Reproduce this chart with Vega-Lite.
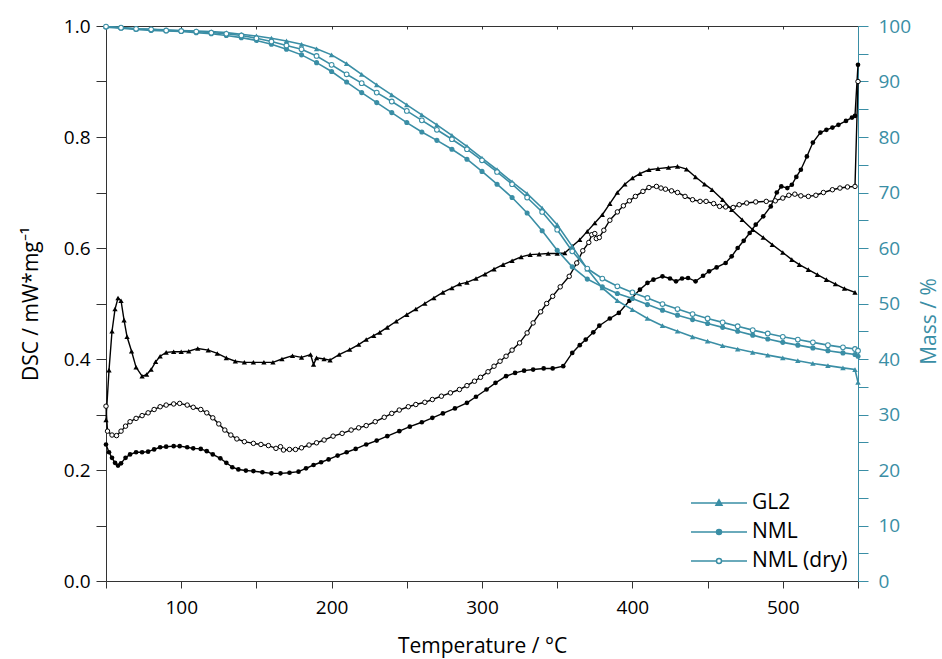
{
"$schema": "https://vega.github.io/schema/vega-lite/v6.json",
"autosize": "none",
"width": 752,
"height": 555,
"padding": {"left": 106, "top": 26, "right": 84, "bottom": 78},
"background": "white",
"config": {"view": {"stroke": null}, "font": "Open Sans", "axis": {"grid": false, "labelFont": "Open Sans", "titleFont": "Open Sans", "titleFontWeight": "normal", "labelOverlap": false, "labelFlush": false}},
"datasets": {
"dsc": [
{"s":"GL2","t":50,"v":0.29},{"s":"GL2","t":52,"v":0.38},{"s":"GL2","t":54,"v":0.45},{"s":"GL2","t":56,"v":0.49},{"s":"GL2","t":58,"v":0.51},{"s":"GL2","t":60,"v":0.505},{"s":"GL2","t":62,"v":0.47},{"s":"GL2","t":64,"v":0.44},{"s":"GL2","t":67,"v":0.414},{"s":"GL2","t":70,"v":0.385},{"s":"GL2","t":74,"v":0.369},{"s":"GL2","t":77,"v":0.372},{"s":"GL2","t":80,"v":0.381},{"s":"GL2","t":83,"v":0.395},{"s":"GL2","t":86,"v":0.405},{"s":"GL2","t":90,"v":0.412},{"s":"GL2","t":95,"v":0.413},{"s":"GL2","t":100,"v":0.413},{"s":"GL2","t":105,"v":0.414},{"s":"GL2","t":111,"v":0.419},{"s":"GL2","t":118,"v":0.416},{"s":"GL2","t":124,"v":0.41},{"s":"GL2","t":130,"v":0.402},{"s":"GL2","t":136,"v":0.396},{"s":"GL2","t":142,"v":0.394},{"s":"GL2","t":148,"v":0.394},{"s":"GL2","t":155,"v":0.394},{"s":"GL2","t":161,"v":0.394},{"s":"GL2","t":167,"v":0.4},{"s":"GL2","t":174,"v":0.406},{"s":"GL2","t":180,"v":0.403},{"s":"GL2","t":186,"v":0.408},{"s":"GL2","t":188,"v":0.39},{"s":"GL2","t":190,"v":0.402},{"s":"GL2","t":195,"v":0.4},{"s":"GL2","t":199,"v":0.398},{"s":"GL2","t":205,"v":0.408},{"s":"GL2","t":212,"v":0.417},{"s":"GL2","t":218,"v":0.426},{"s":"GL2","t":223,"v":0.435},{"s":"GL2","t":228,"v":0.442},{"s":"GL2","t":232,"v":0.448},{"s":"GL2","t":237,"v":0.457},{"s":"GL2","t":243,"v":0.468},{"s":"GL2","t":250,"v":0.48},{"s":"GL2","t":256,"v":0.49},{"s":"GL2","t":262,"v":0.5},{"s":"GL2","t":268,"v":0.51},{"s":"GL2","t":274,"v":0.52},{"s":"GL2","t":280,"v":0.528},{"s":"GL2","t":285,"v":0.535},{"s":"GL2","t":290,"v":0.538},{"s":"GL2","t":296,"v":0.545},{"s":"GL2","t":302,"v":0.553},{"s":"GL2","t":308,"v":0.562},{"s":"GL2","t":314,"v":0.57},{"s":"GL2","t":320,"v":0.577},{"s":"GL2","t":326,"v":0.584},{"s":"GL2","t":332,"v":0.588},{"s":"GL2","t":338,"v":0.589},{"s":"GL2","t":344,"v":0.59},{"s":"GL2","t":350,"v":0.59},{"s":"GL2","t":355,"v":0.591},{"s":"GL2","t":360,"v":0.603},{"s":"GL2","t":365,"v":0.615},{"s":"GL2","t":370,"v":0.63},{"s":"GL2","t":375,"v":0.645},{"s":"GL2","t":380,"v":0.66},{"s":"GL2","t":385,"v":0.68},{"s":"GL2","t":390,"v":0.7},{"s":"GL2","t":395,"v":0.715},{"s":"GL2","t":400,"v":0.726},{"s":"GL2","t":405,"v":0.734},{"s":"GL2","t":411,"v":0.741},{"s":"GL2","t":417,"v":0.743},{"s":"GL2","t":424,"v":0.745},{"s":"GL2","t":430,"v":0.747},{"s":"GL2","t":436,"v":0.742},{"s":"GL2","t":442,"v":0.728},{"s":"GL2","t":448,"v":0.715},{"s":"GL2","t":453,"v":0.705},{"s":"GL2","t":460,"v":0.687},{"s":"GL2","t":466,"v":0.669},{"s":"GL2","t":473,"v":0.651},{"s":"GL2","t":480,"v":0.633},{"s":"GL2","t":487,"v":0.619},{"s":"GL2","t":493,"v":0.606},{"s":"GL2","t":500,"v":0.592},{"s":"GL2","t":506,"v":0.579},{"s":"GL2","t":511,"v":0.57},{"s":"GL2","t":517,"v":0.561},{"s":"GL2","t":523,"v":0.552},{"s":"GL2","t":529,"v":0.543},{"s":"GL2","t":535,"v":0.535},{"s":"GL2","t":541,"v":0.527},{"s":"GL2","t":548,"v":0.52},
{"s":"NML","t":50,"v":0.246},{"s":"NML","t":52,"v":0.232},{"s":"NML","t":54,"v":0.222},{"s":"NML","t":56,"v":0.213},{"s":"NML","t":58,"v":0.208},{"s":"NML","t":60,"v":0.212},{"s":"NML","t":63,"v":0.222},{"s":"NML","t":66,"v":0.228},{"s":"NML","t":70,"v":0.232},{"s":"NML","t":74,"v":0.232},{"s":"NML","t":78,"v":0.233},{"s":"NML","t":82,"v":0.237},{"s":"NML","t":86,"v":0.241},{"s":"NML","t":90,"v":0.242},{"s":"NML","t":95,"v":0.243},{"s":"NML","t":99,"v":0.243},{"s":"NML","t":104,"v":0.241},{"s":"NML","t":108,"v":0.239},{"s":"NML","t":113,"v":0.238},{"s":"NML","t":117,"v":0.234},{"s":"NML","t":121,"v":0.228},{"s":"NML","t":126,"v":0.221},{"s":"NML","t":130,"v":0.213},{"s":"NML","t":134,"v":0.205},{"s":"NML","t":138,"v":0.201},{"s":"NML","t":143,"v":0.199},{"s":"NML","t":148,"v":0.198},{"s":"NML","t":154,"v":0.196},{"s":"NML","t":160,"v":0.194},{"s":"NML","t":166,"v":0.194},{"s":"NML","t":172,"v":0.195},{"s":"NML","t":178,"v":0.197},{"s":"NML","t":183,"v":0.203},{"s":"NML","t":188,"v":0.209},{"s":"NML","t":193,"v":0.214},{"s":"NML","t":198,"v":0.219},{"s":"NML","t":204,"v":0.226},{"s":"NML","t":210,"v":0.232},{"s":"NML","t":216,"v":0.238},{"s":"NML","t":223,"v":0.246},{"s":"NML","t":230,"v":0.253},{"s":"NML","t":237,"v":0.261},{"s":"NML","t":245,"v":0.27},{"s":"NML","t":252,"v":0.278},{"s":"NML","t":260,"v":0.286},{"s":"NML","t":267,"v":0.294},{"s":"NML","t":274,"v":0.302},{"s":"NML","t":282,"v":0.311},{"s":"NML","t":290,"v":0.321},{"s":"NML","t":296,"v":0.332},{"s":"NML","t":303,"v":0.345},{"s":"NML","t":309,"v":0.357},{"s":"NML","t":316,"v":0.369},{"s":"NML","t":322,"v":0.375},{"s":"NML","t":328,"v":0.379},{"s":"NML","t":334,"v":0.381},{"s":"NML","t":341,"v":0.383},{"s":"NML","t":347,"v":0.383},{"s":"NML","t":354,"v":0.387},{"s":"NML","t":360,"v":0.411},{"s":"NML","t":365,"v":0.425},{"s":"NML","t":369,"v":0.435},{"s":"NML","t":374,"v":0.448},{"s":"NML","t":378,"v":0.46},{"s":"NML","t":385,"v":0.473},{"s":"NML","t":391,"v":0.483},{"s":"NML","t":398,"v":0.505},{"s":"NML","t":405,"v":0.525},{"s":"NML","t":410,"v":0.537},{"s":"NML","t":414,"v":0.543},{"s":"NML","t":420,"v":0.549},{"s":"NML","t":425,"v":0.545},{"s":"NML","t":429,"v":0.54},{"s":"NML","t":433,"v":0.545},{"s":"NML","t":437,"v":0.546},{"s":"NML","t":442,"v":0.54},{"s":"NML","t":447,"v":0.55},{"s":"NML","t":451,"v":0.558},{"s":"NML","t":456,"v":0.565},{"s":"NML","t":462,"v":0.573},{"s":"NML","t":466,"v":0.585},{"s":"NML","t":470,"v":0.6},{"s":"NML","t":474,"v":0.613},{"s":"NML","t":478,"v":0.627},{"s":"NML","t":482,"v":0.642},{"s":"NML","t":487,"v":0.657},{"s":"NML","t":492,"v":0.675},{"s":"NML","t":496,"v":0.7},{"s":"NML","t":499,"v":0.711},{"s":"NML","t":503,"v":0.708},{"s":"NML","t":506,"v":0.714},{"s":"NML","t":509,"v":0.728},{"s":"NML","t":512,"v":0.741},{"s":"NML","t":516,"v":0.765},{"s":"NML","t":520,"v":0.79},{"s":"NML","t":525,"v":0.808},{"s":"NML","t":529,"v":0.813},{"s":"NML","t":533,"v":0.817},{"s":"NML","t":537,"v":0.822},{"s":"NML","t":542,"v":0.829},{"s":"NML","t":546,"v":0.835},{"s":"NML","t":548,"v":0.838},{"s":"NML","t":550,"v":0.93},
{"s":"NML (dry)","t":50,"v":0.315},{"s":"NML (dry)","t":51,"v":0.27},{"s":"NML (dry)","t":54,"v":0.263},{"s":"NML (dry)","t":57,"v":0.262},{"s":"NML (dry)","t":60,"v":0.27},{"s":"NML (dry)","t":63,"v":0.279},{"s":"NML (dry)","t":66,"v":0.287},{"s":"NML (dry)","t":70,"v":0.293},{"s":"NML (dry)","t":74,"v":0.298},{"s":"NML (dry)","t":78,"v":0.303},{"s":"NML (dry)","t":82,"v":0.309},{"s":"NML (dry)","t":86,"v":0.314},{"s":"NML (dry)","t":90,"v":0.317},{"s":"NML (dry)","t":95,"v":0.319},{"s":"NML (dry)","t":99,"v":0.32},{"s":"NML (dry)","t":104,"v":0.317},{"s":"NML (dry)","t":108,"v":0.313},{"s":"NML (dry)","t":113,"v":0.309},{"s":"NML (dry)","t":117,"v":0.303},{"s":"NML (dry)","t":121,"v":0.294},{"s":"NML (dry)","t":125,"v":0.283},{"s":"NML (dry)","t":129,"v":0.272},{"s":"NML (dry)","t":133,"v":0.263},{"s":"NML (dry)","t":137,"v":0.256},{"s":"NML (dry)","t":142,"v":0.251},{"s":"NML (dry)","t":148,"v":0.248},{"s":"NML (dry)","t":153,"v":0.246},{"s":"NML (dry)","t":158,"v":0.244},{"s":"NML (dry)","t":163,"v":0.239},{"s":"NML (dry)","t":166,"v":0.242},{"s":"NML (dry)","t":168,"v":0.236},{"s":"NML (dry)","t":172,"v":0.237},{"s":"NML (dry)","t":176,"v":0.237},{"s":"NML (dry)","t":180,"v":0.24},{"s":"NML (dry)","t":185,"v":0.245},{"s":"NML (dry)","t":190,"v":0.249},{"s":"NML (dry)","t":195,"v":0.254},{"s":"NML (dry)","t":201,"v":0.261},{"s":"NML (dry)","t":207,"v":0.266},{"s":"NML (dry)","t":213,"v":0.272},{"s":"NML (dry)","t":218,"v":0.276},{"s":"NML (dry)","t":223,"v":0.28},{"s":"NML (dry)","t":229,"v":0.287},{"s":"NML (dry)","t":235,"v":0.295},{"s":"NML (dry)","t":240,"v":0.302},{"s":"NML (dry)","t":245,"v":0.308},{"s":"NML (dry)","t":251,"v":0.314},{"s":"NML (dry)","t":256,"v":0.318},{"s":"NML (dry)","t":262,"v":0.322},{"s":"NML (dry)","t":267,"v":0.327},{"s":"NML (dry)","t":273,"v":0.333},{"s":"NML (dry)","t":279,"v":0.339},{"s":"NML (dry)","t":285,"v":0.345},{"s":"NML (dry)","t":290,"v":0.352},{"s":"NML (dry)","t":295,"v":0.36},{"s":"NML (dry)","t":299,"v":0.367},{"s":"NML (dry)","t":304,"v":0.377},{"s":"NML (dry)","t":308,"v":0.387},{"s":"NML (dry)","t":312,"v":0.396},{"s":"NML (dry)","t":316,"v":0.405},{"s":"NML (dry)","t":320,"v":0.416},{"s":"NML (dry)","t":325,"v":0.429},{"s":"NML (dry)","t":330,"v":0.447},{"s":"NML (dry)","t":334,"v":0.465},{"s":"NML (dry)","t":339,"v":0.485},{"s":"NML (dry)","t":343,"v":0.5},{"s":"NML (dry)","t":347,"v":0.513},{"s":"NML (dry)","t":352,"v":0.53},{"s":"NML (dry)","t":358,"v":0.549},{"s":"NML (dry)","t":363,"v":0.573},{"s":"NML (dry)","t":367,"v":0.595},{"s":"NML (dry)","t":371,"v":0.61},{"s":"NML (dry)","t":373,"v":0.624},{"s":"NML (dry)","t":375,"v":0.626},{"s":"NML (dry)","t":376,"v":0.617},{"s":"NML (dry)","t":378,"v":0.619},{"s":"NML (dry)","t":381,"v":0.632},{"s":"NML (dry)","t":385,"v":0.65},{"s":"NML (dry)","t":390,"v":0.665},{"s":"NML (dry)","t":394,"v":0.676},{"s":"NML (dry)","t":398,"v":0.685},{"s":"NML (dry)","t":402,"v":0.693},{"s":"NML (dry)","t":407,"v":0.702},{"s":"NML (dry)","t":411,"v":0.709},{"s":"NML (dry)","t":416,"v":0.711},{"s":"NML (dry)","t":419,"v":0.708},{"s":"NML (dry)","t":422,"v":0.706},{"s":"NML (dry)","t":426,"v":0.703},{"s":"NML (dry)","t":430,"v":0.7},{"s":"NML (dry)","t":435,"v":0.693},{"s":"NML (dry)","t":440,"v":0.687},{"s":"NML (dry)","t":445,"v":0.684},{"s":"NML (dry)","t":449,"v":0.684},{"s":"NML (dry)","t":454,"v":0.68},{"s":"NML (dry)","t":458,"v":0.675},{"s":"NML (dry)","t":462,"v":0.674},{"s":"NML (dry)","t":467,"v":0.673},{"s":"NML (dry)","t":471,"v":0.678},{"s":"NML (dry)","t":476,"v":0.681},{"s":"NML (dry)","t":482,"v":0.683},{"s":"NML (dry)","t":489,"v":0.684},{"s":"NML (dry)","t":495,"v":0.685},{"s":"NML (dry)","t":500,"v":0.69},{"s":"NML (dry)","t":504,"v":0.695},{"s":"NML (dry)","t":508,"v":0.697},{"s":"NML (dry)","t":512,"v":0.694},{"s":"NML (dry)","t":517,"v":0.693},{"s":"NML (dry)","t":522,"v":0.695},{"s":"NML (dry)","t":527,"v":0.7},{"s":"NML (dry)","t":533,"v":0.705},{"s":"NML (dry)","t":538,"v":0.708},{"s":"NML (dry)","t":543,"v":0.71},{"s":"NML (dry)","t":548,"v":0.711},{"s":"NML (dry)","t":550,"v":0.9}
],
"mass": [
{"s":"GL2","t":50,"v":99.9},{"s":"GL2","t":60,"v":99.7},{"s":"GL2","t":70,"v":99.5},{"s":"GL2","t":80,"v":99.4},{"s":"GL2","t":90,"v":99.3},{"s":"GL2","t":100,"v":99.2},{"s":"GL2","t":110,"v":99.1},{"s":"GL2","t":120,"v":99.0},{"s":"GL2","t":130,"v":98.8},{"s":"GL2","t":140,"v":98.5},{"s":"GL2","t":150,"v":98.2},{"s":"GL2","t":160,"v":97.8},{"s":"GL2","t":170,"v":97.3},{"s":"GL2","t":180,"v":96.7},{"s":"GL2","t":190,"v":95.9},{"s":"GL2","t":200,"v":94.8},{"s":"GL2","t":210,"v":93.2},{"s":"GL2","t":220,"v":91.3},{"s":"GL2","t":230,"v":89.4},{"s":"GL2","t":240,"v":87.6},{"s":"GL2","t":250,"v":85.8},{"s":"GL2","t":260,"v":84.0},{"s":"GL2","t":270,"v":82.2},{"s":"GL2","t":280,"v":80.3},{"s":"GL2","t":290,"v":78.3},{"s":"GL2","t":300,"v":76.2},{"s":"GL2","t":310,"v":74.1},{"s":"GL2","t":320,"v":71.9},{"s":"GL2","t":330,"v":69.8},{"s":"GL2","t":340,"v":67.2},{"s":"GL2","t":350,"v":64.2},{"s":"GL2","t":360,"v":60.3},{"s":"GL2","t":370,"v":56.2},{"s":"GL2","t":380,"v":52.8},{"s":"GL2","t":390,"v":50.5},{"s":"GL2","t":400,"v":48.9},{"s":"GL2","t":410,"v":47.3},{"s":"GL2","t":420,"v":46.0},{"s":"GL2","t":430,"v":45.0},{"s":"GL2","t":440,"v":44.0},{"s":"GL2","t":450,"v":43.2},{"s":"GL2","t":460,"v":42.4},{"s":"GL2","t":470,"v":41.8},{"s":"GL2","t":480,"v":41.2},{"s":"GL2","t":490,"v":40.7},{"s":"GL2","t":500,"v":40.2},{"s":"GL2","t":510,"v":39.7},{"s":"GL2","t":520,"v":39.2},{"s":"GL2","t":530,"v":38.8},{"s":"GL2","t":540,"v":38.4},{"s":"GL2","t":548,"v":38.1},{"s":"GL2","t":550,"v":35.8},
{"s":"NML","t":50,"v":99.8},{"s":"NML","t":60,"v":99.6},{"s":"NML","t":70,"v":99.4},{"s":"NML","t":80,"v":99.2},{"s":"NML","t":90,"v":99.1},{"s":"NML","t":100,"v":99.0},{"s":"NML","t":110,"v":98.8},{"s":"NML","t":120,"v":98.6},{"s":"NML","t":130,"v":98.3},{"s":"NML","t":140,"v":97.9},{"s":"NML","t":150,"v":97.4},{"s":"NML","t":160,"v":96.7},{"s":"NML","t":170,"v":95.8},{"s":"NML","t":180,"v":94.8},{"s":"NML","t":190,"v":93.4},{"s":"NML","t":200,"v":91.8},{"s":"NML","t":210,"v":89.9},{"s":"NML","t":220,"v":88.0},{"s":"NML","t":230,"v":86.2},{"s":"NML","t":240,"v":84.4},{"s":"NML","t":250,"v":82.6},{"s":"NML","t":260,"v":80.9},{"s":"NML","t":270,"v":79.4},{"s":"NML","t":280,"v":77.8},{"s":"NML","t":290,"v":76.0},{"s":"NML","t":300,"v":73.8},{"s":"NML","t":310,"v":71.5},{"s":"NML","t":320,"v":69.1},{"s":"NML","t":330,"v":66.3},{"s":"NML","t":340,"v":63.1},{"s":"NML","t":350,"v":59.6},{"s":"NML","t":360,"v":56.6},{"s":"NML","t":370,"v":54.4},{"s":"NML","t":380,"v":53.0},{"s":"NML","t":390,"v":51.8},{"s":"NML","t":400,"v":50.9},{"s":"NML","t":410,"v":49.8},{"s":"NML","t":420,"v":48.8},{"s":"NML","t":430,"v":47.9},{"s":"NML","t":440,"v":47.1},{"s":"NML","t":450,"v":46.4},{"s":"NML","t":460,"v":45.7},{"s":"NML","t":470,"v":45.0},{"s":"NML","t":480,"v":44.3},{"s":"NML","t":490,"v":43.6},{"s":"NML","t":500,"v":43.0},{"s":"NML","t":510,"v":42.5},{"s":"NML","t":520,"v":42.0},{"s":"NML","t":530,"v":41.5},{"s":"NML","t":540,"v":41.1},{"s":"NML","t":548,"v":40.8},{"s":"NML","t":550,"v":40.5},
{"s":"NML (dry)","t":50,"v":99.9},{"s":"NML (dry)","t":60,"v":99.7},{"s":"NML (dry)","t":70,"v":99.5},{"s":"NML (dry)","t":80,"v":99.4},{"s":"NML (dry)","t":90,"v":99.2},{"s":"NML (dry)","t":100,"v":99.1},{"s":"NML (dry)","t":110,"v":99.0},{"s":"NML (dry)","t":120,"v":98.8},{"s":"NML (dry)","t":130,"v":98.6},{"s":"NML (dry)","t":140,"v":98.3},{"s":"NML (dry)","t":150,"v":97.8},{"s":"NML (dry)","t":160,"v":97.2},{"s":"NML (dry)","t":170,"v":96.5},{"s":"NML (dry)","t":180,"v":95.8},{"s":"NML (dry)","t":190,"v":94.6},{"s":"NML (dry)","t":200,"v":93.0},{"s":"NML (dry)","t":210,"v":91.3},{"s":"NML (dry)","t":220,"v":89.7},{"s":"NML (dry)","t":230,"v":88.0},{"s":"NML (dry)","t":240,"v":86.4},{"s":"NML (dry)","t":250,"v":84.7},{"s":"NML (dry)","t":260,"v":83.0},{"s":"NML (dry)","t":270,"v":81.3},{"s":"NML (dry)","t":280,"v":79.6},{"s":"NML (dry)","t":290,"v":77.8},{"s":"NML (dry)","t":300,"v":75.8},{"s":"NML (dry)","t":310,"v":73.7},{"s":"NML (dry)","t":320,"v":71.5},{"s":"NML (dry)","t":330,"v":69.1},{"s":"NML (dry)","t":340,"v":66.5},{"s":"NML (dry)","t":350,"v":63.3},{"s":"NML (dry)","t":360,"v":59.4},{"s":"NML (dry)","t":370,"v":56.3},{"s":"NML (dry)","t":380,"v":54.5},{"s":"NML (dry)","t":390,"v":53.1},{"s":"NML (dry)","t":400,"v":52.0},{"s":"NML (dry)","t":410,"v":51.0},{"s":"NML (dry)","t":420,"v":49.9},{"s":"NML (dry)","t":430,"v":49.0},{"s":"NML (dry)","t":440,"v":48.1},{"s":"NML (dry)","t":450,"v":47.3},{"s":"NML (dry)","t":460,"v":46.6},{"s":"NML (dry)","t":470,"v":45.9},{"s":"NML (dry)","t":480,"v":45.2},{"s":"NML (dry)","t":490,"v":44.6},{"s":"NML (dry)","t":500,"v":44.0},{"s":"NML (dry)","t":510,"v":43.5},{"s":"NML (dry)","t":520,"v":43.0},{"s":"NML (dry)","t":530,"v":42.5},{"s":"NML (dry)","t":540,"v":42.1},{"s":"NML (dry)","t":548,"v":41.8},{"s":"NML (dry)","t":550,"v":41.5}
]
},
"layer": [
{
"data": {"name": "dsc"},
"encoding": {
"x": {"field": "t", "type": "quantitative", "scale": {"domain": [50, 550], "nice": false, "zero": false},
"axis": {"orient": "bottom", "values": [50,100,150,200,250,300,350,400,450,500,550], "format": "d", "labelExpr": "datum.value % 100 === 0 ? datum.label : ''", "tickSize": 7, "labelFontSize": 19, "labelPadding": 10, "labelColor": "black", "domainColor": "#333333", "tickColor": "#333333", "title": "Temperature / °C", "titleFontSize": 21, "titleColor": "black", "titlePadding": 18}},
"y": {"field": "v", "type": "quantitative", "scale": {"domain": [0, 1], "nice": false, "zero": false},
"axis": {"orient": "left", "values": [0,0.1,0.2,0.3,0.4,0.5,0.6,0.7,0.8,0.9,1.0], "format": ".1f", "labelExpr": "round(datum.value*10) % 2 === 0 ? datum.label : ''", "tickSize": 10, "labelFontSize": 19, "labelPadding": 6, "labelColor": "black", "domainColor": "#333333", "tickColor": "#333333", "title": "DSC / mW*mg⁻¹", "titleFontSize": 21, "titleColor": "black", "titlePadding": 22}}
},
"layer": [
{"mark": {"type": "line", "color": "black", "strokeWidth": 1.4}, "encoding": {"detail": {"field": "s"}}},
{"transform": [{"filter": "datum.s === 'GL2'"}], "mark": {"type": "point", "shape": "triangle-up", "filled": true, "color": "black", "size": 28, "opacity": 1}},
{"transform": [{"filter": "datum.s === 'NML'"}], "mark": {"type": "point", "shape": "circle", "filled": true, "color": "black", "size": 22, "opacity": 1}},
{"transform": [{"filter": "datum.s === 'NML (dry)'"}], "mark": {"type": "point", "shape": "circle", "filled": false, "fill": "white", "stroke": "black", "strokeWidth": 1, "size": 20, "opacity": 1}}
]
},
{
"data": {"name": "mass"},
"encoding": {
"x": {"field": "t", "type": "quantitative", "scale": {"domain": [50, 550], "nice": false, "zero": false},
"axis": {"orient": "top", "values": [50,100,150,200,250,300,350,400,450,500,550], "labels": false, "tickSize": -3, "domainColor": "#333333", "tickColor": "#333333", "title": null}},
"y": {"field": "v", "type": "quantitative", "scale": {"domain": [0, 100], "nice": false, "zero": false},
"axis": {"orient": "right", "values": [0,5,10,15,20,25,30,35,40,45,50,55,60,65,70,75,80,85,90,95,100], "labelExpr": "datum.value % 10 === 0 ? datum.label : ''", "tickSize": 10, "labelFontSize": 19, "labelPadding": 10, "labelColor": "#3a8ea5", "domainColor": "#3a8ea5", "tickColor": "#3a8ea5", "title": "Mass / %", "titleFontSize": 21, "titleColor": "#3a8ea5", "titleAngle": 270, "titlePadding": 29, "titleY": 295}}
},
"layer": [
{"mark": {"type": "line", "color": "#3a8ea5", "strokeWidth": 1.6}, "encoding": {"detail": {"field": "s"}}},
{"transform": [{"filter": "datum.s === 'GL2'"}], "mark": {"type": "point", "shape": "triangle-up", "filled": true, "color": "#3a8ea5", "size": 30, "opacity": 1}},
{"transform": [{"filter": "datum.s === 'NML'"}], "mark": {"type": "point", "shape": "circle", "filled": true, "color": "#3a8ea5", "size": 26, "opacity": 1}},
{"transform": [{"filter": "datum.s === 'NML (dry)'"}], "mark": {"type": "point", "shape": "circle", "filled": false, "fill": "white", "stroke": "#3a8ea5", "strokeWidth": 1.1, "size": 22, "opacity": 1}},
{"transform": [{"filter": "datum.t === 50"}], "mark": {"type": "point", "opacity": 0, "stroke": "#3a8ea5", "strokeWidth": 1.5, "size": 400},
"encoding": {
"shape": {"field": "s", "type": "nominal", "scale": {"domain": ["GL2", "NML", "NML (dry)"], "range": ["M-2.8,0H2.8M-0.3,0.22L0,-0.32L0.3,0.22Z", "M-2.8,0H2.8M0.25,0A0.25,0.25 0 1,1 -0.25,0A0.25,0.25 0 1,1 0.25,0Z", "M-2.8,0H-0.25M0.25,0H2.8M0.25,0A0.25,0.25 0 1,1 -0.25,0A0.25,0.25 0 1,1 0.25,0Z"]},
"legend": {"title": null, "orient": "none", "legendX": 602, "legendY": 466, "symbolSize": 400, "symbolStrokeColor": "#3a8ea5", "symbolStrokeWidth": 1.5, "symbolOpacity": 1, "labelFontSize": 21, "labelFont": "Open Sans", "labelColor": "black", "labelOffset": 22, "rowPadding": 8, "encode": {"symbols": {"update": {"stroke": {"value": "#3a8ea5"}, "strokeWidth": {"value": 1.5}, "opacity": {"value": 1}}}}}},
"fill": {"field": "s", "type": "nominal", "scale": {"domain": ["GL2", "NML", "NML (dry)"], "range": ["#3a8ea5", "#3a8ea5", "white"]},
"legend": {"title": null, "orient": "none", "legendX": 602, "legendY": 466, "symbolSize": 400, "symbolStrokeColor": "#3a8ea5", "symbolStrokeWidth": 1.5, "symbolOpacity": 1, "labelFontSize": 21, "labelFont": "Open Sans", "labelColor": "black", "labelOffset": 22, "rowPadding": 8, "encode": {"symbols": {"update": {"stroke": {"value": "#3a8ea5"}, "strokeWidth": {"value": 1.5}, "opacity": {"value": 1}}}}}}
}}
]
}
],
"resolve": {"scale": {"y": "independent"}, "axis": {"x": "independent", "y": "independent"}}
}
